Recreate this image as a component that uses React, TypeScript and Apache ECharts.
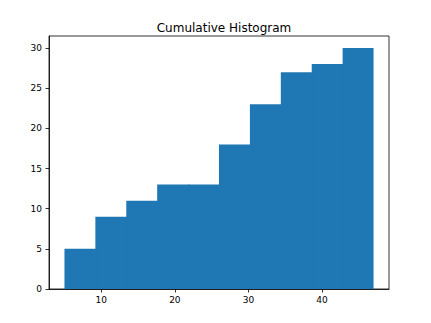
import React, { useEffect, useRef } from "react";
import * as echarts from "echarts";

const binStarts = [5, 9.2, 13.4, 17.6, 21.8, 26, 30.2, 34.4, 38.6, 42.8];
const binEnds = [9.2, 13.4, 17.6, 21.8, 26, 30.2, 34.4, 38.6, 42.8, 47];
const cumulativeCounts = [5, 9, 11, 13, 13, 18, 23, 27, 28, 30];
const xTicks = [10, 20, 30, 40];
const yTicks = [0, 5, 10, 15, 20, 25, 30];
const titleText = "Cumulative Histogram";

export default function App() {
  const ref = useRef<HTMLDivElement>(null);
  useEffect(() => {
    if (!ref.current) return;
    const chart = echarts.init(ref.current, undefined, { renderer: "svg" });
    const font = "DejaVu Sans";
    const data = binStarts.map((s, i) => [s, binEnds[i], cumulativeCounts[i]]);
    chart.setOption({
      animation: false,
      backgroundColor: "#ffffff",
      title: {
        text: titleText,
        left: 219,
        top: 17,
        textAlign: "center",
        textStyle: { fontFamily: font, fontSize: 12, fontWeight: "normal", color: "#000" },
      },
      grid: {
        left: 49,
        right: 42,
        top: 36,
        bottom: 34,
        show: true,
        borderColor: "#000",
        borderWidth: 0.8,
        backgroundColor: "transparent",
      },
      xAxis: {
        type: "value",
        min: 2.9,
        max: 49.1,
        splitLine: { show: false },
        axisLine: { show: true, onZero: false, lineStyle: { color: "#000", width: 0.8 } },
        axisTick: { show: true, length: 3.5, customValues: xTicks, lineStyle: { color: "#000", width: 0.8 } },
        axisLabel: { customValues: xTicks, margin: 6, fontFamily: font, fontSize: 9, color: "#000" },
      },
      yAxis: {
        type: "value",
        min: 0,
        max: 31.5,
        splitLine: { show: false },
        axisLine: { show: true, lineStyle: { color: "#000", width: 0.8 } },
        axisTick: { show: true, length: 3.5, customValues: yTicks, lineStyle: { color: "#000", width: 0.8 } },
        axisLabel: { customValues: yTicks, margin: 7, fontFamily: font, fontSize: 9, color: "#000" },
      },
      series: [
        {
          type: "custom",
          data,
          encode: { x: [0, 1], y: 2 },
          renderItem: (params: any, api: any) => {
            const p0 = api.coord([api.value(0), api.value(2)]);
            const p1 = api.coord([api.value(1), 0]);
            const overlap = params.dataIndex < data.length - 1 ? 1.2 : 0;
            return {
              type: "rect",
              z2: -params.dataIndex,
              shape: { x: p0[0], y: p0[1], width: p1[0] - p0[0] + overlap, height: p1[1] - p0[1] },
              style: { fill: "#1f77b4" },
            };
          },
        },
      ],
    });
    return () => chart.dispose();
  }, []);
  return (
    <div
      ref={ref}
      style={{ position: "absolute", left: 0, top: 0, width: 431, height: 323 }}
    />
  );
}
